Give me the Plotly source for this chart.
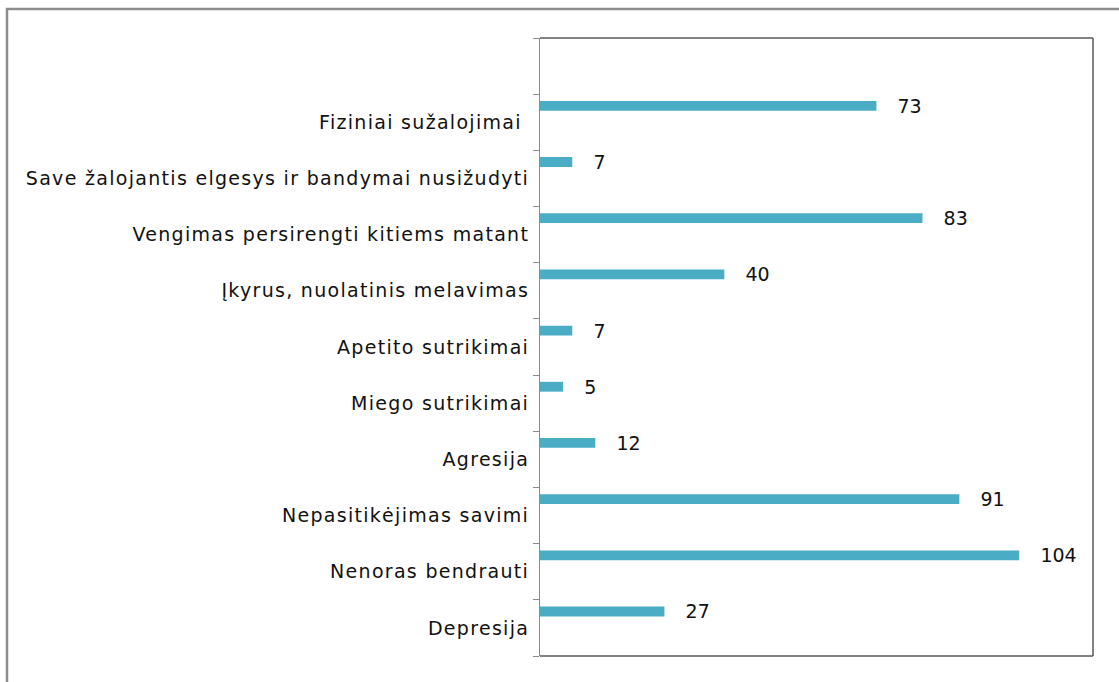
import plotly.graph_objects as go

categories = [
    "Depresija",
    "Nenoras bendrauti",
    "Nepasitikėjimas savimi",
    "Agresija",
    "Miego sutrikimai",
    "Apetito sutrikimai",
    "Įkyrus, nuolatinis melavimas",
    "Vengimas persirengti kitiems matant",
    "Save žalojantis elgesys ir bandymai nusižudyti",
    "Fiziniai sužalojimai ",
    " ",
]
values = [27, 104, 91, 12, 5, 7, 40, 83, 7, 73, None]

BAR_COLOR = "#4BACC6"
TEXT_COLOR = "#111111"
FONT = "DejaVu Sans, sans-serif"
FSIZE = 19

fig = go.Figure()
fig.add_trace(go.Bar(
    y=categories,
    x=values,
    orientation="h",
    marker=dict(color=BAR_COLOR, line=dict(width=0)),
    width=0.175,
    offset=0.205,
    texttemplate="\u00a0\u00a0\u00a0%{x}",
    textposition="outside",
    constraintext="none",
    cliponaxis=False,
    textfont=dict(family=FONT, size=FSIZE, color=TEXT_COLOR),
    hoverinfo="x+y",
    showlegend=False,
))

fig.update_layout(
    width=1119,
    height=682,
    margin=dict(l=540, r=26, t=38, b=26, autoexpand=False),
    paper_bgcolor="white",
    plot_bgcolor="white",
    font=dict(family=FONT, size=FSIZE, color=TEXT_COLOR),
    xaxis=dict(range=[0, 120], showticklabels=False, showgrid=False,
               zeroline=False, showline=False, ticks=""),
    yaxis=dict(type="category", categoryorder="array", categoryarray=categories,
               range=[-0.5, 10.5], showgrid=False, zeroline=False,
               showline=True, linecolor="#8c8c8c", linewidth=1,
               ticks="outside", tickson="boundaries", ticklen=6,
               tickcolor="#8c8c8c", tickwidth=1, ticklabelstandoff=6,
               tickfont=dict(family=FONT, size=FSIZE, color=TEXT_COLOR)),
    shapes=[
        # plot area border (top, right, bottom)
        dict(type="line", xref="paper", yref="paper", x0=0, x1=1, y0=1, y1=1,
             line=dict(color="#595959", width=1.5)),
        dict(type="line", xref="paper", yref="paper", x0=1, x1=1, y0=0, y1=1,
             line=dict(color="#595959", width=1.5)),
        dict(type="line", xref="paper", yref="paper", x0=0, x1=1, y0=0, y1=0,
             line=dict(color="#595959", width=1.5)),
        # outer chart border
        dict(type="rect", xref="paper", yref="paper",
             x0=(7 - 540) / 553, x1=(1130 - 540) / 553,
             y0=(656 - 700) / 618, y1=(656 - 9) / 618,
             line=dict(color="#8c8c8c", width=2.5), layer="below"),
    ],
)

post = (
    "document.body.style.margin='0';"
    "var s=document.createElement('style');"
    "s.textContent='.ytick text, .bartext text{letter-spacing:1.3px;}';"
    "document.head.appendChild(s);"
)
fig.write_html("out.html", post_script=post, config={"displayModeBar": False})
